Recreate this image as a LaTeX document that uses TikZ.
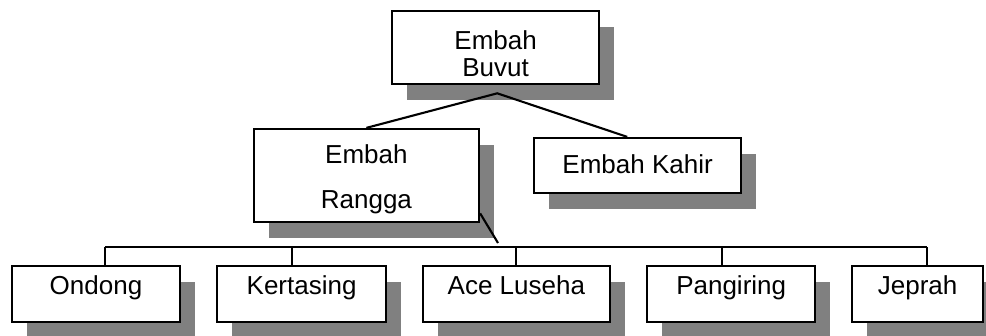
\documentclass[tikz,border=0pt]{standalone}
\usepackage{fontspec}
\setmainfont{Liberation Sans}
\usetikzlibrary{shadows}
\definecolor{shade}{RGB}{128, 128, 128}
\tikzset{%
    person/.style={%
        draw, line width=1.6pt, fill=white, inner sep=0pt, align=center,
        font=\fontsize{18.5}{19}\selectfont,
        general shadow={fill=shade, shadow xshift=0.38cm, shadow yshift=-0.39cm}
    },
    child/.style={%
        person, minimum height=1.4cm, text height=0.72cm, text depth=0.68cm
    },
    link/.style={line width=1.5pt}
}

\begin{document}
\begin{tikzpicture}

    \useasboundingbox (0, 0) rectangle (24.65, 8.4);

    % Top of the tree
    \node[person, minimum width=5.18cm, minimum height=1.83cm,
          text height=1.63cm, text depth=0.2cm] (buvut) at (12.39, 7.21)
        {Embah\\Buvut};

    % Second generation
    \node[person, minimum width=5.63cm, minimum height=2.33cm,
          text height=1.98cm, text depth=0.35cm] (rangga) at (9.16, 4.01)
        {Embah\\[13pt]Rangga};
    \node[person, minimum width=5.18cm, minimum height=1.38cm,
          text height=0.875cm, text depth=0.5cm] (kahir) at (15.94, 4.26)
        {Embah Kahir};

    % Third generation
    \node[child, minimum width=4.2cm] (ondong) at (2.40, 1.05) {Ondong};
    \node[child, minimum width=4.23cm] (kertasing) at (7.54, 1.05) {Kertasing};
    \node[child, minimum width=4.68cm] (ace) at (12.91, 1.05) {Ace Luseha};
    \node[child, minimum width=4.2cm] (pangiring) at (18.28, 1.05) {Pangiring};
    \node[child, minimum width=3.28cm] (jeprah) at (22.94, 1.05) {Jeprah};

    % Connecting up
    \coordinate (fork) at ([xshift=0.04cm, yshift=-0.2cm] buvut.south);
    \coordinate (split) at (12.45, 2.225);

    \draw[link] (rangga.north) -- (fork) -- ([xshift=-0.26cm] kahir.north);
    \draw[link] ([yshift=0.25cm] rangga.south east) -- ([yshift=0.1cm] split);

    \draw[link] ([xshift=0.23cm] ondong.north |- split)
        -- ([xshift=0.24cm] jeprah.north |- split);
    \foreach \kid/\dx in {ondong/0.23, kertasing/-0.24, ace/0,
                          pangiring/-0.23, jeprah/0.24}{%
        \draw[link] ([xshift=\dx cm] \kid.north)
            -- ([xshift=\dx cm] \kid.north |- split);
    };

\end{tikzpicture}
\end{document}
